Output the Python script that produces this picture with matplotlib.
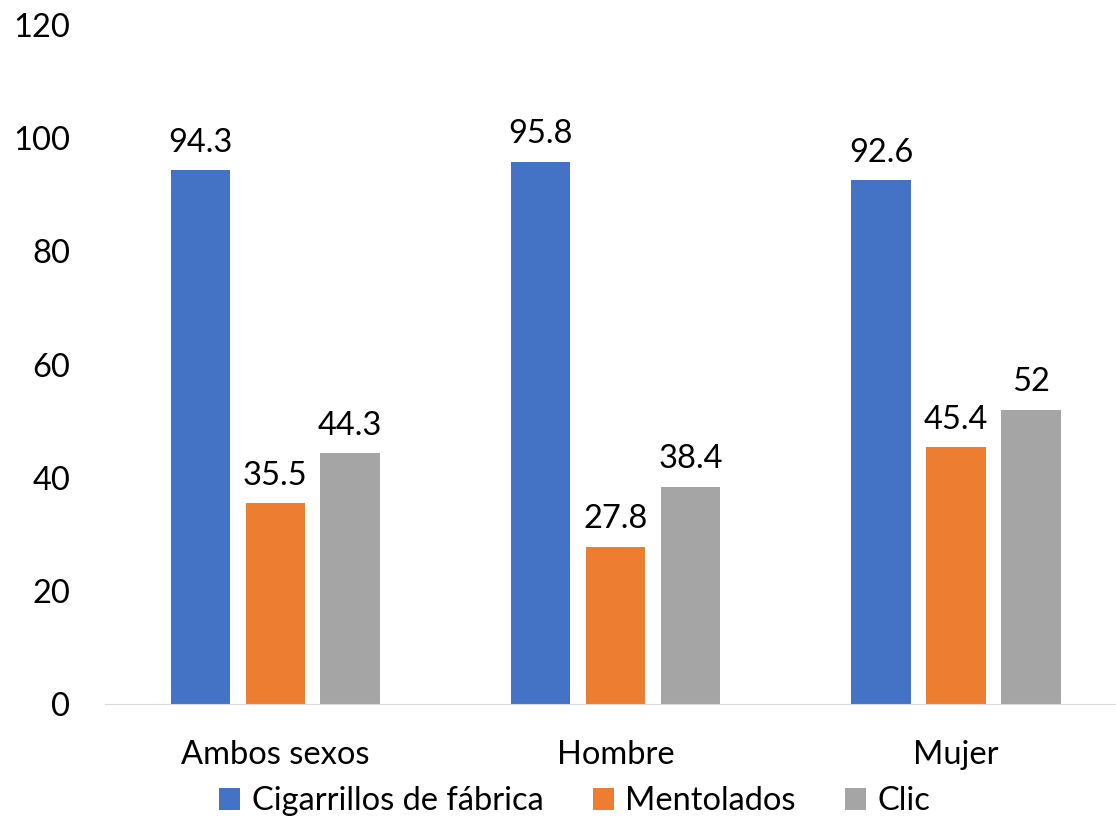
import matplotlib.pyplot as plt
import numpy as np

plt.rcParams['font.family'] = ['Lato', 'DejaVu Sans']

groups = ['Ambos sexos', 'Hombre', 'Mujer']
series = ['Cigarrillos de fábrica', 'Mentolados', 'Clic']
fabrica = [94.3, 95.8, 92.6]
mentolados = [35.5, 27.8, 45.4]
clic = [44.3, 38.4, 52]
colors = ['#4472C4', '#ED7D31', '#A5A5A5']

fig = plt.figure(figsize=(11.16, 8.21), dpi=100)
ax = fig.add_axes([0.094, 0.1425, 0.906, 0.827])

x = np.arange(len(groups))
w = 0.174
step = 0.22
for i, (vals, name, c) in enumerate(zip([fabrica, mentolados, clic], series, colors)):
    bars = ax.bar(x + (i - 1) * step, vals, w, color=c, label=name)
    labels = [f'{v:g}' for v in vals]
    ax.bar_label(bars, labels=labels, padding=9, fontsize=23.5)

ax.set_ylim(0, 120)
ax.set_yticks(range(0, 121, 20))
ax.set_xlim(-0.5, 2.47)
ax.set_xticks(x)
ax.set_xticklabels(groups)
ax.tick_params(axis='both', length=0, labelsize=23.5)
ax.tick_params(axis='x', pad=26)
ax.tick_params(axis='y', pad=25)
for s in ['top', 'right', 'left']:
    ax.spines[s].set_visible(False)
ax.spines['bottom'].set_color('#D9D9D9')

fig.legend(loc='lower center', ncol=3, frameon=False, fontsize=23.5,
           bbox_to_anchor=(0.515, -0.03), handlelength=0.65, handleheight=0.65,
           handletextpad=0.35, columnspacing=1.5)

fig.savefig('out.png')
